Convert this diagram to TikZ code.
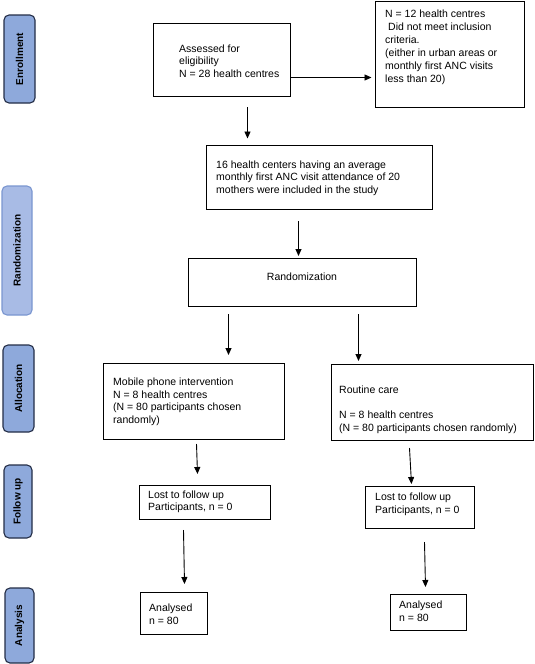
\documentclass[tikz,border=0pt]{standalone}
\usepackage{fontspec}
\setmainfont{Liberation Sans}
\usetikzlibrary{arrows.meta,calc}
\definecolor{phasefill}{RGB}{142,169,219}
\definecolor{phaseline}{RGB}{35,45,70}
\definecolor{randfill}{RGB}{168,187,229}
\definecolor{randline}{RGB}{122,150,208}
\begin{document}
\begin{tikzpicture}[x=1pt,y=-1pt,
  box/.style={draw=black,line width=1pt,inner sep=0pt,anchor=north west},
  txt/.style={align=left,inner sep=0pt,font=\fontsize{10.5}{12.5}\selectfont},
  phase/.style={draw=phaseline,fill=phasefill,line width=1.1pt,rounded corners=5pt,rotate=90,inner sep=0pt,font=\bfseries\fontsize{10}{12}\selectfont},
  arr/.style={line width=0.9pt,-{Triangle[length=7pt,width=6pt]}}]
\useasboundingbox (0,0) rectangle (535,664);
% phase labels
\node[phase,minimum width=88pt,minimum height=31pt] (pEnr) at (19.5,59) {Enrollment};
\node[phase,draw=randline,fill=randfill,minimum width=129pt,minimum height=30pt] (pRan) at (17,250.5) {Randomization};
\node[phase,minimum width=87pt,minimum height=31pt] (pAll) at (18.5,388.5) {Allocation};
\node[phase,minimum width=73pt,minimum height=28pt] (pFol) at (18,501.5) {Follow up};
\node[phase,minimum width=75pt,minimum height=29pt] (pAna) at (19.5,625.5) {Analysis};
% boxes
\node[box,minimum width=137pt,minimum height=73pt] (assess) at (153,23) {};
\node[txt,anchor=west,font=\fontsize{10.5}{12.5}\selectfont] (assessT) at (179,61) {Assessed for\\eligibility\\N = 28 health centres};
\node[box,minimum width=149pt,minimum height=106pt] (excl) at (375,1) {};
\node[txt,anchor=north west,font=\fontsize{10.5}{13}\selectfont] (exclT) at (385,10) {N = 12 health centres\\\hspace*{3pt}Did not meet inclusion\\criteria.\\(either in urban areas or\\monthly first ANC visits\\less than 20)};
\node[box,minimum width=226pt,minimum height=64pt] (incl) at (206,145) {};
\node[txt,anchor=west] (inclT) at (216,178) {16 health centers having an average\\monthly first ANC visit attendance of 20\\mothers were included in the study};
\node[box,minimum width=228pt,minimum height=48pt] (rand) at (188,258) {};
\node[txt] (randT) at (302,277) {Randomization};
\node[box,minimum width=181pt,minimum height=76pt] (mob) at (103,363) {};
\node[txt,anchor=west] (mobT) at (113,402) {Mobile phone intervention\\N = 8 health centres\\(N = 80 participants chosen\\randomly)};
\node[box,minimum width=202pt,minimum height=76pt] (rout) at (331,364) {};
\node[txt,anchor=north west] (routT) at (339,386) {Routine care\\[12.5pt]N = 8 health centres\\(N = 80 participants chosen randomly)};
\node[box,minimum width=131pt,minimum height=34pt] (lostL) at (139,485) {};
\node[txt,anchor=west] (lostLT) at (148,502) {Lost to follow up\\Participants, n = 0};
\node[box,minimum width=109pt,minimum height=42pt] (lostR) at (365,486) {};
\node[txt,anchor=north west] (lostRT) at (375,493) {Lost to follow up\\Participants, n = 0};
\node[box,minimum width=67pt,minimum height=42pt] (anL) at (140,592) {};
\node[txt,anchor=west] (anLT) at (149,614) {Analysed\\n = 80};
\node[box,minimum width=76pt,minimum height=36pt] (anR) at (390,594) {};
\node[txt,anchor=west] (anRT) at (399,611) {Analysed\\n = 80};
% arrows
\draw[arr] ([yshift=-17.5pt]assess.east) -- ([xshift=-3.5pt,yshift=-23pt]excl.west);
\draw[arr] ($(assess.south)+(25.5,10)$) -- ($(incl.north)+(-72,-6.5)$);
\draw[arr] ($(incl.south)+(-21,11)$) -- ($(rand.north)+(-4,-2)$);
\draw[arr] ($(rand.south)+(-74,7)$) -- ($(mob.north)+(34.5,-8)$);
\draw[arr] ($(rand.south)+(56,7)$) -- ($(rout.north)+(-74,-3)$);
\draw[arr] ($(mob.south)+(2.5,4)$) -- ($(lostL.north)+(-7.5,-11)$);
\draw[arr] ($(rout.south)+(-23,7)$) -- ($(lostR.north)+(-8.5,-2)$);
\draw[arr] ($(lostL.south)+(-21.5,10)$) -- ($(anL.north)+(10.5,-8)$);
\draw[arr] ($(lostR.south)+(4.5,13)$) -- ($(anR.north)+(-3,-7)$);
\end{tikzpicture}
\end{document}
